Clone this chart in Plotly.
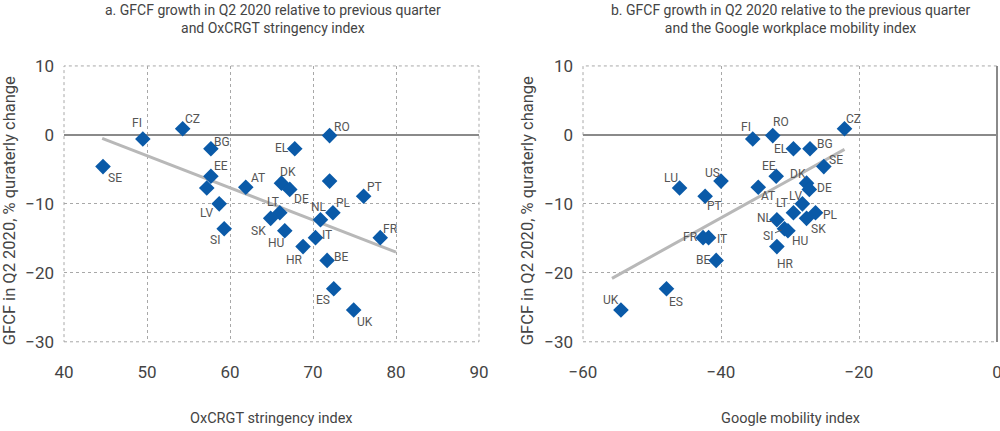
import plotly.graph_objects as go

# --- data ---
countries = ["FI", "CZ", "BG", "SE", "EE", "LU", "AT", "LV", "SI", "EL", "US", "DK", "DE",
             "RO", "PT", "LT", "SK", "NL", "PL", "HU", "IT", "HR", "FR", "BE", "ES", "UK"]
gfcf_growth = [-0.6, 0.9, -2.0, -4.6, -6.0, -7.7, -7.6, -10.0, -13.6, -2.0, -6.7, -7.0, -7.9,
               -0.1, -8.9, -11.3, -12.1, -12.3, -11.3, -13.9, -14.9, -16.2, -14.9, -18.2, -22.3, -25.4]
stringency = [49.5, 54.3, 57.7, 44.7, 57.7, 57.2, 61.9, 58.7, 59.3, 67.8, 72.0, 66.2, 67.2,
              72.0, 76.1, 66.0, 64.9, 70.9, 72.4, 66.6, 70.3, 68.8, 78.1, 71.7, 72.5, 74.9]
mobility = [-35.4, -22.1, -27.1, -25.1, -32.0, -46.0, -34.6, -28.2, -30.8, -29.5, -40.0, -27.6, -27.2,
            -32.5, -42.3, -29.5, -27.6, -31.9, -26.3, -30.3, -41.8, -31.9, -42.6, -40.7, -47.9, -54.5]

# trend lines as drawn in the source
trend_a_x = [44.6, 80.0]
trend_a_y = [-0.5, -17.0]
trend_b_x = [-55.8, -22.1]
trend_b_y = [-20.8, -2.1]

# countries that carry no label in panel a
unlabeled_a = {"LU", "US"}
# label drawn with a leader line in panel b
leader_b = "SI"

# label offsets from the marker in pixels (dx right, dy down)
off_a = {"FI": (-6, -16), "CZ": (10, -10), "BG": (11, -7), "SE": (12, 11), "EE": (10, -10),
         "AT": (12, -9), "LV": (-13, 9), "SI": (-9, 11), "EL": (-13, -1), "DK": (7, -11),
         "DE": (12, 10), "RO": (12, -9), "PT": (11, -9), "LT": (-7, -11), "SK": (-12, 13),
         "NL": (-1, -13), "PL": (11, -10), "HU": (-9, 12), "IT": (12, -3), "HR": (-9, 13),
         "FR": (10, -9), "BE": (14, -3), "ES": (-11, 11), "UK": (11, 12)}
off_b = {"FI": (-7, -12), "RO": (8, -14), "CZ": (9, -10), "EL": (-12, 0), "BG": (15, -5),
         "SE": (12, -7), "EE": (-7, -10), "DK": (-9, -9), "DE": (15, -1), "LU": (-9, -10),
         "US": (-9, -8), "AT": (10, 9), "PT": (9, 10), "LV": (-7, -8), "LT": (-11, -10),
         "PL": (15, 2), "SK": (12, 11), "NL": (-12, -2), "SI": (-16, 7), "HU": (12, 10),
         "FR": (-13, -1), "IT": (13, 1), "HR": (9, 17), "BE": (-13, 0), "ES": (10, 13),
         "UK": (-10, -10)}

FONT = "Roboto, sans-serif"
BLUE = "#0a5aa8"
TXT = "#555555"
GRID = "#a8a8a8"
LBL = 12

fig = go.Figure()

fig.add_trace(go.Scatter(x=trend_a_x, y=trend_a_y, mode="lines",
                         line=dict(color="#b8b8b8", width=3), xaxis="x", yaxis="y",
                         hoverinfo="skip"))
fig.add_trace(go.Scatter(x=stringency, y=gfcf_growth, mode="markers", text=countries,
                         marker=dict(symbol="diamond", size=12, color=BLUE),
                         xaxis="x", yaxis="y"))

fig.add_trace(go.Scatter(x=trend_b_x, y=trend_b_y, mode="lines",
                         line=dict(color="#b8b8b8", width=3), xaxis="x2", yaxis="y2",
                         hoverinfo="skip"))
fig.add_trace(go.Scatter(x=mobility, y=gfcf_growth, mode="markers", text=countries,
                         marker=dict(symbol="diamond", size=12, color=BLUE),
                         xaxis="x2", yaxis="y2"))

# country labels
for c, xv, yv in zip(countries, stringency, gfcf_growth):
    if c in unlabeled_a:
        continue
    dx, dy = off_a[c]
    fig.add_annotation(x=xv, y=yv, xref="x", yref="y", text=c, showarrow=False,
                       xshift=dx, yshift=-dy, font=dict(family=FONT, size=LBL, color=TXT))
for c, xv, yv in zip(countries, mobility, gfcf_growth):
    dx, dy = off_b[c]
    if c == leader_b:
        fig.add_annotation(x=xv, y=yv, xref="x2", yref="y2", text=c, showarrow=True,
                           arrowhead=0, arrowwidth=1, arrowcolor=TXT, ax=dx, ay=dy,
                           standoff=3, font=dict(family=FONT, size=LBL, color=TXT))
    else:
        fig.add_annotation(x=xv, y=yv, xref="x2", yref="y2", text=c, showarrow=False,
                           xshift=dx, yshift=-dy, font=dict(family=FONT, size=LBL, color=TXT))

axis_common = dict(showgrid=True, gridcolor=GRID, griddash="dot", gridwidth=1,
                   zeroline=True, zerolinecolor="#8a8a8a", zerolinewidth=1.5,
                   showline=False, ticks="", automargin=False, ticklabeloverflow="allow",
                   tickfont=dict(family=FONT, size=17, color="#444"))

fig.update_layout(
    width=1000, height=431,
    paper_bgcolor="white", plot_bgcolor="white",
    showlegend=False,
    margin=dict(l=0, r=0, t=0, b=0),
    font=dict(family=FONT, color="#444"),
    xaxis=dict(domain=[0.064, 0.479], range=[40, 90], dtick=10, anchor="y",
               ticklabelstandoff=18, **axis_common),
    yaxis=dict(domain=[0.207, 0.847], range=[-30, 10], dtick=10, anchor="x",
               ticklabelstandoff=9, **axis_common),
    xaxis2=dict(domain=[0.583, 0.997], range=[-60, 0], dtick=20, anchor="y2",
                ticklabelstandoff=18, **axis_common),
    yaxis2=dict(domain=[0.207, 0.847], range=[-30, 10], dtick=10, anchor="x2",
                ticklabelstandoff=9, **axis_common),
)

# dotted frame round each plot area
for xr, yr in (("x", "y"), ("x2", "y2")):
    fig.add_shape(type="rect", xref=f"{xr} domain", yref=f"{yr} domain",
                  x0=0, x1=1, y0=0, y1=1, line=dict(color=GRID, width=1, dash="dot"),
                  layer="below")
# the x = 0 axis line sits on the right edge of panel b
fig.add_shape(type="line", xref="x2 domain", yref="y2 domain", x0=1, x1=1, y0=0, y1=1,
              line=dict(color="#8a8a8a", width=1.5))

titles = [
    (0.273, "a. GFCF growth in Q2 2020 relative to previous quarter<br>and OxCRGT stringency index"),
    (0.790, "b. GFCF growth in Q2 2020 relative to the previous quarter<br>and the Google workplace mobility index"),
]
for xc, t in titles:
    fig.add_annotation(x=xc, y=1.0, xref="paper", yref="paper", xanchor="center", yanchor="top",
                       text=t, showarrow=False, font=dict(family=FONT, size=14, color="#444"))

for xc, t in ((0.271, "OxCRGT stringency index"), (0.790, "Google mobility index")):
    fig.add_annotation(x=xc, y=0.03, xref="paper", yref="paper", xanchor="center", yanchor="middle",
                       text=t, showarrow=False, font=dict(family=FONT, size=14.5, color="#444"))

for xc in (0.009, 0.527):
    fig.add_annotation(x=xc, y=0.51, xref="paper", yref="paper", xanchor="center", yanchor="middle",
                       text="GFCF in Q2 2020, % quraterly change", textangle=-90, showarrow=False,
                       font=dict(family=FONT, size=16.5, color="#444"))

# drop the browser's default body margin so the figure sits at the page corner
fig.write_html("out.html", config={"displayModeBar": False},
               post_script="document.body.style.margin='0px';")
